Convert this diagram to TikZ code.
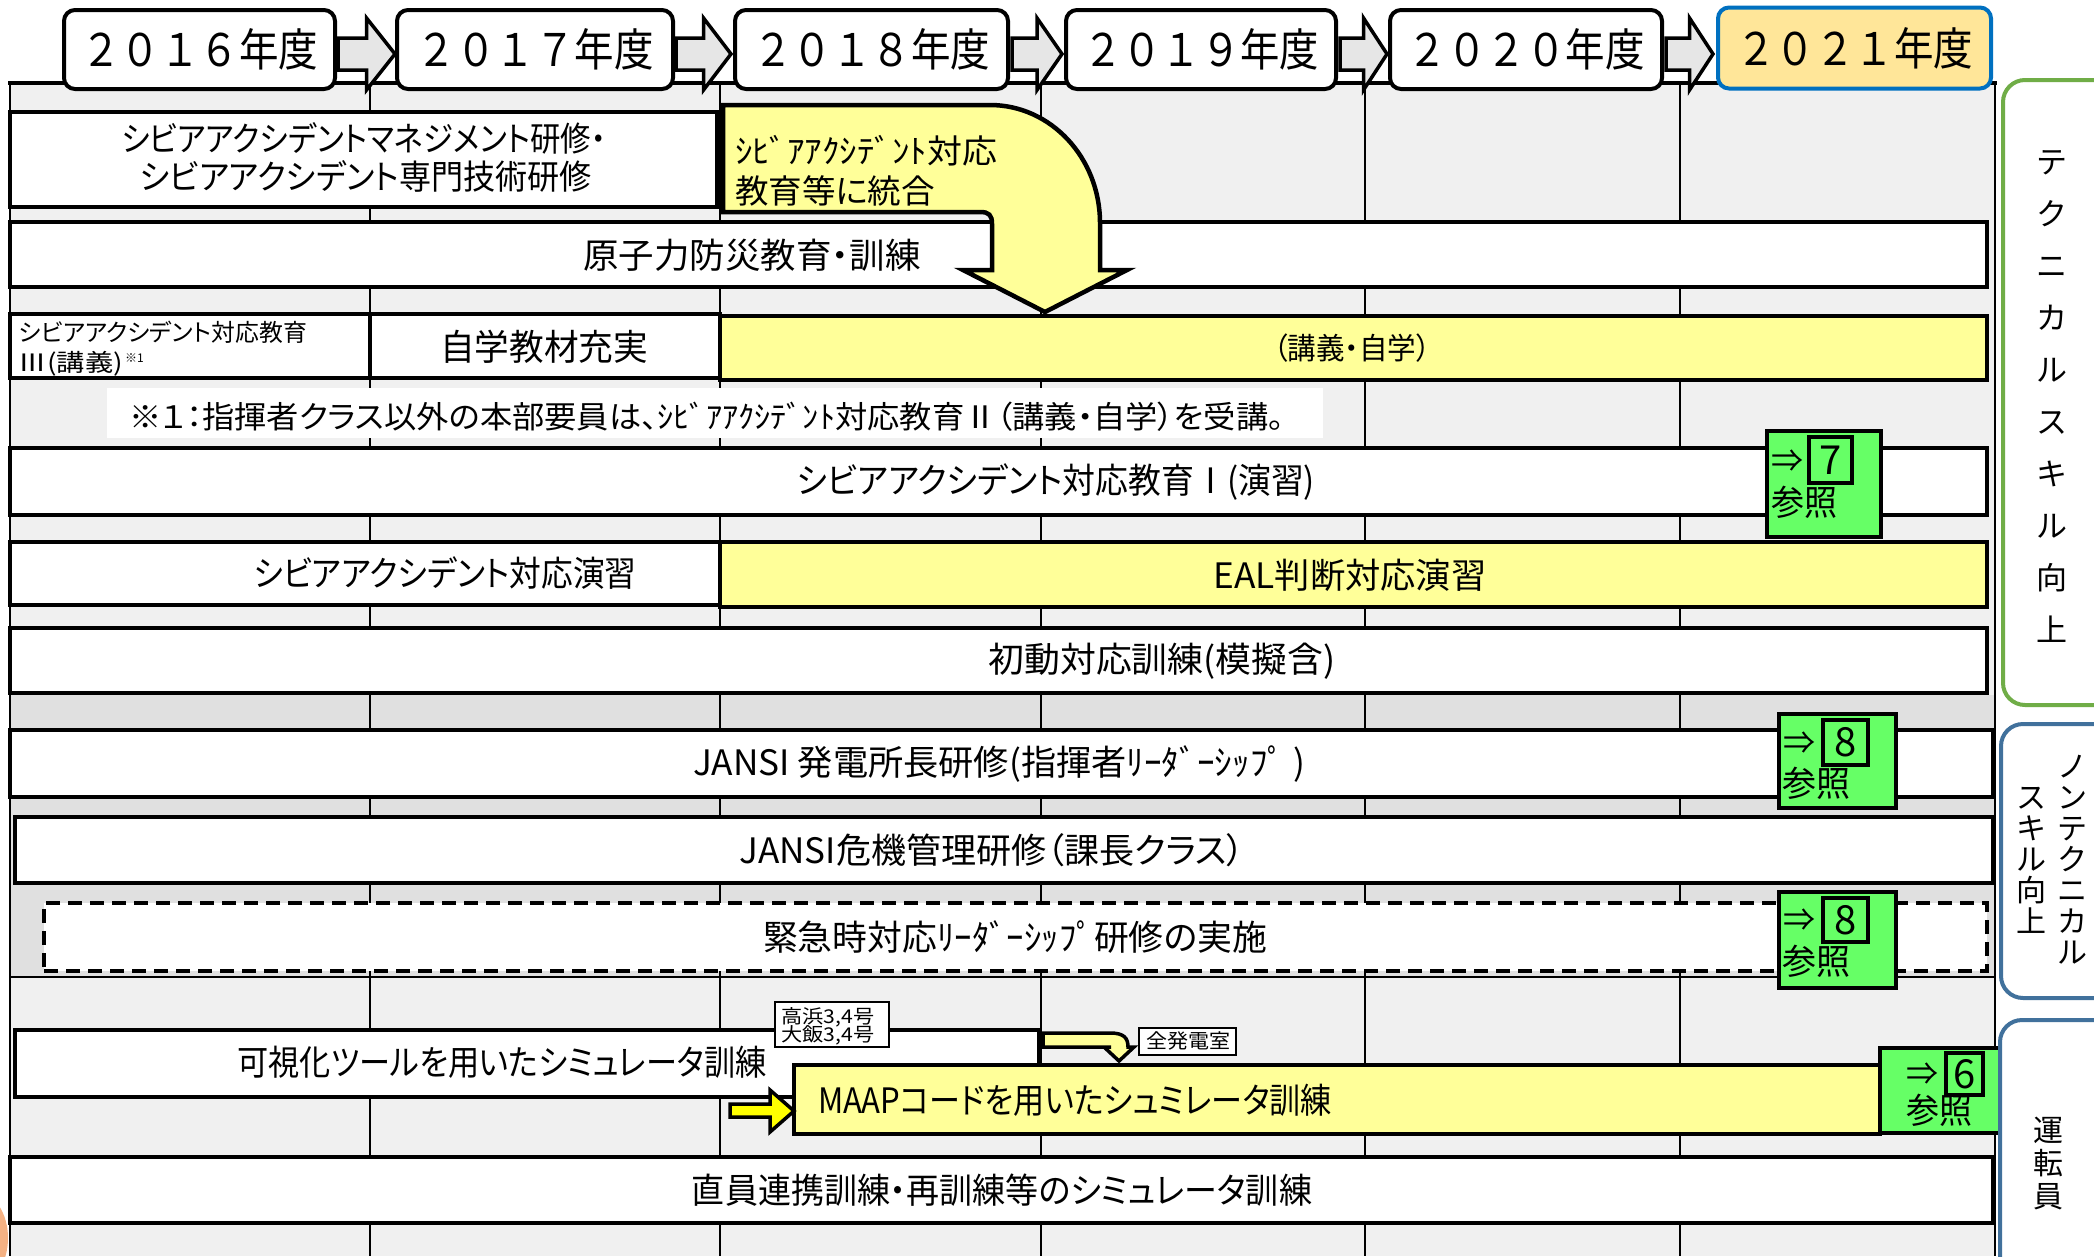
\documentclass[tikz,border=0pt]{standalone}
\usepackage{fontspec}
\setmainfont{Noto Sans CJK JP}[RawFeature={+palt}]
\newfontfamily\jpfw{Noto Sans CJK JP}
\definecolor{gridA}{HTML}{F0F0F0}
\definecolor{gridB}{HTML}{E0E0E0}
\definecolor{ylw}{HTML}{FFFF99}
\definecolor{grn}{HTML}{66FF66}
\definecolor{arrgray}{HTML}{E6E6E6}
\definecolor{yrfill}{HTML}{FFE699}
\definecolor{yrblue}{HTML}{0070C0}
\definecolor{sideG}{HTML}{70AD47}
\definecolor{sideB}{HTML}{41719C}
\definecolor{brightY}{HTML}{FFFF00}
\definecolor{blob}{HTML}{F4B183}
\newcommand\fsz[1]{\fontsize{#1}{#1}\selectfont}
\newcommand\tw[2]{\resizebox{#1pt}{\height}{#2}}
\newcommand\bx[6]{\node[#6,minimum width={#4-#2},minimum height={#5-#3}] (#1) at ({(#2+#4)/2},{(#3+#5)/2}) {};}
\newcommand\yarr[2]{\pgfmathsetmacro\xm{#1+0.5*(#2-#1)}%
  \filldraw[fill=arrgray,line width=3.5pt] (#1,38) -- (\xm,38) -- (\xm,18) -- (#2,54) -- (\xm,90) -- (\xm,70) -- (#1,70) -- cycle;}
\begin{document}
\begin{tikzpicture}[x=1pt,y=-1pt,
  every node/.append style={inner sep=0pt,outer sep=0pt},
  wbox/.style={draw=black,line width=4pt,fill=white},
  ybox/.style={draw=black,line width=4pt,fill=ylw},
  dbox/.style={draw=black,line width=4pt,fill=white,dash pattern=on 14pt off 8pt},
  gbox/.style={draw=black,line width=4pt,fill=grn},
  yearbox/.style={draw=black,line width=4pt,fill=white,rounded corners=11pt},
  lbl/.style={draw=black,line width=1.5pt,fill=white},
  sidebox/.style={line width=4pt,rounded corners=22pt,fill=white},
  gridline/.style={line width=1.8pt},
  vtext/.style={font=\jpfw\fontsize{31}{52}\selectfont,align=center},
]
\useasboundingbox (0,0) rectangle (2094,1256);
\clip (0,0) rectangle (2094,1256);
\fill[white] (0,0) rectangle (2094,1256);
% grid
\fill[gridA] (10,83) rectangle (1995,1256);
\fill[gridB] (10,695) rectangle (1995,977);
\foreach \gx in {370,720,1041,1365,1680} {\draw[gridline] (\gx,83) -- (\gx,1256);}
\draw[gridline] (10,83) -- (10,1256);
\draw[gridline] (1995,83) -- (1995,1256);
\draw[line width=4pt] (8,83) -- (1997,83);
\draw[line width=2.5pt] (10,977) -- (1995,977);
\fill[blob] (-22,1238) ellipse [x radius=30, y radius=45];

% row 1
\bx{r1}{10}{112}{717}{207}{wbox}
\node[font=\fsz{34}] (r1a) at (364,138) {\tw{485}{シビアアクシデントマネジメント研修・}};
\node[font=\fsz{34}] (r1b) at (366,176) {\tw{452}{シビアアクシデント専門技術研修}};
% row 2
\bx{r2}{10}{222}{1987}{287}{wbox}
\node[font=\fsz{35}] (r2t) at (752,255) {\tw{337}{原子力防災教育・訓練}};
% row 3
\bx{r3l}{10}{314}{370}{378}{wbox}
\bx{r3m}{370}{314}{720}{378}{wbox}
\bx{r3y}{720}{316}{1987}{380}{ybox}
\node[anchor=west,font=\fsz{24}] (r3a) at (19,332) {\tw{288}{シビアアクシデント対応教育}};
\node[anchor=west,font=\fsz{24}] (r3b) at (19,364) {\tw{104}{Ⅲ(講義)}};
\node[anchor=west,font=\fsz{12}] (r3c) at (125,358) {※1};
\node[font=\fsz{36}] (r3t) at (544,347) {\tw{208}{自学教材充実}};
\node[font=\fsz{30}] (r3u) at (1352,348) {\tw{157}{（講義・自学）}};
% footnote
\bx{fn}{107}{388}{1323}{438}{fill=white}
\node[font=\fsz{31}] (fnt) at (707,417) {\tw{1155}{※１：指揮者クラス以外の本部要員は、ｼﾋﾞｱｱｸｼﾃﾞﾝﾄ対応教育Ⅱ（講義・自学）を受講。}};
% row 4
\bx{r4}{10}{448}{1987}{515}{wbox}
\node[font=\fsz{35}] (r4t) at (1056,482) {\tw{518}{シビアアクシデント対応教育Ⅰ(演習)}};
\bx{g7}{1767}{431}{1881}{537}{gbox}
\bx{g7i}{1809}{437}{1852}{483}{gbox}
\node[font=\fsz{32}] (g7a) at (1787,461) {⇒};
\node[font=\fsz{40}] (g7n) at (g7i) {7};
\node[font=\fsz{35}] (g7b) at (1804,502) {\tw{66}{参照}};
% row 5
\bx{r5l}{10}{542}{720}{605}{wbox}
\bx{r5y}{720}{542}{1987}{607}{ybox}
\node[font=\fsz{35}] (r5a) at (445,573) {\tw{383}{シビアアクシデント対応演習}};
\node[font=\fsz{35}] (r5b) at (1350,575) {\tw{273}{EAL判断対応演習}};
% row 6
\bx{r6}{10}{628}{1987}{693}{wbox}
\node[font=\fsz{35}] (r6t) at (1162,661) {\tw{347}{初動対応訓練(模擬含)}};
% row 7
\bx{r7}{10}{730}{1993}{797}{wbox}
\node[font=\fsz{35}] (r7t) at (999,764) {\tw{612}{JANSI 発電所長研修(指揮者ﾘｰﾀﾞｰｼｯﾌﾟ )}};
\bx{g8}{1779}{714}{1896}{808}{gbox}
\bx{g8i}{1823}{720}{1868}{765}{gbox}
\node[font=\fsz{32}] (g8a) at (1799,743) {⇒};
\node[font=\fsz{40}] (g8n) at (g8i) {8};
\node[font=\fsz{35}] (g8b) at (1816,783) {\tw{68}{参照}};
% row 8
\bx{r8}{15}{817}{1993}{883}{wbox}
\node[font=\fsz{35}] (r8t) at (992,850) {\tw{505}{JANSI危機管理研修（課長クラス）}};
% row 9
\bx{r9}{44}{903}{1987}{971}{dbox}
\node[font=\fsz{35}] (r9t) at (1015,937) {\tw{504}{緊急時対応ﾘｰﾀﾞｰｼｯﾌﾟ研修の実施}};
\bx{h8}{1779}{892}{1896}{988}{gbox}
\bx{h8i}{1823}{898}{1868}{942}{gbox}
\node[font=\fsz{32}] (h8a) at (1799,920) {⇒};
\node[font=\fsz{40}] (h8n) at (h8i) {8};
\node[font=\fsz{35}] (h8b) at (1816,961) {\tw{68}{参照}};
% row 10
\bx{r10}{15}{1030}{1039}{1097}{wbox}
\node[font=\fsz{35}] (r10t) at (502,1062) {\tw{529}{可視化ツールを用いたシミュレータ訓練}};
\bx{lb1}{775}{1002}{889}{1047}{lbl}
\node[font=\fsz{19}] (lb1a) at (828,1017) {\tw{93}{高浜3,4号}};
\node[font=\fsz{19}] (lb1b) at (828,1035) {\tw{93}{大飯3,4号}};
\bx{r10y}{794}{1065}{1880}{1134}{ybox}
\node[font=\fsz{35}] (r10u) at (1075,1100) {\tw{514}{MAAPコードを用いたシュミレータ訓練}};
\bx{g6}{1880}{1048}{2000}{1133}{gbox}
\bx{g6i}{1946}{1053}{1983}{1095}{gbox}
\node[font=\fsz{32}] (g6a) at (1922,1074) {⇒};
\node[font=\fsz{40}] (g6n) at (g6i) {6};
\node[font=\fsz{35}] (g6b) at (1939,1110) {\tw{66}{参照}};
\filldraw[fill=brightY,line width=3.5pt] (730,1104) -- (770,1104) -- (770,1090) -- (794,1111) -- (770,1132) -- (770,1117) -- (730,1117) -- cycle;
\filldraw[fill=ylw,line width=3.5pt] (1043,1033) -- (1110,1033) .. controls (1124,1033) and (1128,1038) .. (1128,1047) -- (1134,1047) -- (1119,1061) -- (1104,1047) -- (1111,1047) -- (1043,1047) -- cycle;
\bx{lb2}{1139}{1028}{1236}{1055}{lbl}
\node[font=\fsz{20}] (lb2t) at (1188,1041) {\tw{84}{全発電室}};
% row 11
\bx{r11}{10}{1157}{1993}{1223}{wbox}
\node[font=\fsz{35}] (r11t) at (1002,1190) {\tw{620}{直員連携訓練・再訓練等のシミュレータ訓練}};

% big curved arrow
\filldraw[fill=ylw,line width=4.5pt,line join=miter]
  (723,105) -- (990,105) .. controls (1051,105) and (1100,158) .. (1100,223)
  -- (1100,270) -- (1127,270) -- (1045,312) -- (963,270) -- (992,270)
  -- (992,224) .. controls (992,215) and (989,212) .. (980,212) -- (723,212) -- cycle;
\node[anchor=west,font=\fsz{33}] (ca1) at (735,151) {\tw{262}{ｼﾋﾞｱｱｸｼﾃﾞﾝﾄ対応}};
\node[anchor=west,font=\fsz{33}] (ca2) at (735,191) {\tw{200}{教育等に統合}};

% year arrows and boxes
\yarr{338}{395}
\yarr{676}{731}
\yarr{1012}{1062}
\yarr{1340}{1387}
\yarr{1666}{1713}
\begin{scope}[every node/.append style={font=\jpfw\fsz{45}}]
\node[yearbox,minimum width=271,minimum height=79] (y16) at (199.5,49.5) {\tw{237}{２０１６年度}};
\node[yearbox,minimum width=276,minimum height=79] (y17) at (535,49.5) {\tw{237}{２０１７年度}};
\node[yearbox,minimum width=273,minimum height=79] (y18) at (871.5,49.5) {\tw{237}{２０１８年度}};
\node[yearbox,minimum width=270,minimum height=79] (y19) at (1201,49.5) {\tw{236}{２０１９年度}};
\node[yearbox,minimum width=272,minimum height=79] (y20) at (1526,49.5) {\tw{237}{２０２０年度}};
\node[yearbox,draw=yrblue,fill=yrfill,minimum width=273,minimum height=81] (y21) at (1854.5,48) {\tw{237}{２０２１年度}};
\end{scope}

% side labels
\draw[sidebox,draw=sideG] (2003,80) rectangle (2130,705);
\draw[sidebox,draw=sideB] (2001,724) rectangle (2130,998);
\draw[sidebox,draw=sideB] (2000,1020) rectangle (2130,1290);
\node[vtext] (s1) at (2052,397) {テ\\ク\\ニ\\カ\\ル\\ス\\キ\\ル\\向\\上};
\node[vtext,font=\jpfw\fontsize{30}{31}\selectfont] (s2a) at (2072,860) {ノ\\ン\\テ\\ク\\ニ\\カ\\ル};
\node[vtext,font=\jpfw\fontsize{30}{31}\selectfont] (s2b) at (2031,860) {ス\\キ\\ル\\向\\上};
\node[vtext,font=\jpfw\fontsize{30}{33}\selectfont] (s3) at (2048,1163) {運\\転\\員};
\end{tikzpicture}
\end{document}
